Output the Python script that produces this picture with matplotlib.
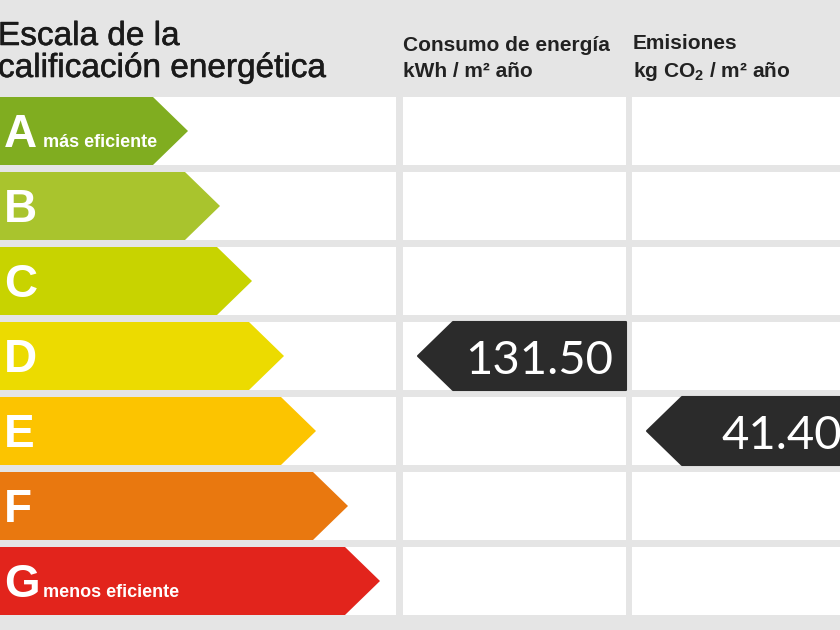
import matplotlib
matplotlib.use('Agg')
import matplotlib.pyplot as plt
import matplotlib.patheffects as pe
from matplotlib.patches import Polygon, Rectangle

# Rating scale and measured values
ratings = ['A', 'B', 'C', 'D', 'E', 'F', 'G']
rating_colors = ['#80ad20', '#a9c42d', '#c8d300', '#ecdb00', '#fcc400', '#e9780f', '#e2241c']
rating_notes = {'A': 'más eficiente', 'G': 'menos eficiente'}

consumo_rating = 'D'
consumo_value = 131.50
emisiones_rating = 'E'
emisiones_value = 41.40

plt.rcParams['mathtext.fontset'] = 'custom'
plt.rcParams['mathtext.rm'] = 'Liberation Sans:bold'
plt.rcParams['mathtext.bf'] = 'Liberation Sans:bold'

# layout in pixels
W, H = 840, 630
header_h = 97
row_pitch = 75
row_h = 68
col_left = (0, 403, 632)
col_right = (396, 626, 855)
arrow_tip0 = 188
arrow_step = 32
tip_len = 35

fig = plt.figure(figsize=(8.4, 6.3), dpi=100, facecolor='#e5e5e5')
ax = fig.add_axes([0, 0, 1, 1])
ax.set_xlim(0, W)
ax.set_ylim(H, 0)
ax.axis('off')
ax.set_facecolor('#e5e5e5')

# header text
thick = [pe.withStroke(linewidth=0.4, foreground='#1a1a1a')]
ax.text(-2, 45, 'Escala de la', fontsize=24, family='Liberation Sans', color='#1a1a1a',
        va='baseline', path_effects=thick)
ax.text(-2, 77, 'calificación energética', fontsize=24, family='Liberation Sans', color='#1a1a1a',
        va='baseline', path_effects=thick)
ax.text(403, 51, 'Consumo de energía', fontsize=15, family='Liberation Sans', weight='bold', color='#222222', va='baseline')
ax.text(403, 77, 'kWh / m² año', fontsize=15, family='Liberation Sans', weight='bold', color='#222222', va='baseline')
ax.text(633, 49, 'Emisiones', fontsize=15, family='Liberation Sans', weight='bold', color='#222222', va='baseline')
ax.text(633, 77, r'kg CO$_{\mathrm{2}}$ / m² año', fontsize=15, family='Liberation Sans', weight='bold', color='#222222', va='baseline')

for i, (r, c) in enumerate(zip(ratings, rating_colors)):
    top = header_h + i * row_pitch
    bot = top + row_h
    mid = (top + bot) / 2
    # white cells
    for x0, x1 in zip(col_left, col_right):
        ax.add_patch(Rectangle((x0, top), x1 - x0, row_h, facecolor='white', edgecolor='none'))
    # rating arrow
    tip = arrow_tip0 + arrow_step * i
    ax.add_patch(Polygon([(0, top), (tip - tip_len, top), (tip, mid), (tip - tip_len, bot), (0, bot)],
                         closed=True, facecolor=c, edgecolor='none'))
    ax.text(4, mid + 16, r, fontsize=33, family='Liberation Sans', weight='bold', color='white', va='baseline')
    if r in rating_notes:
        ax.text(43, mid + 16, rating_notes[r], fontsize=13, family='Liberation Sans', weight='bold',
                color='white', va='baseline')


def value_marker(col, rating, value):
    i = ratings.index(rating)
    top = header_h + i * row_pitch
    bot = top + row_h
    mid = (top + bot) / 2
    tip = col_left[col] + 15
    right = col_right[col]
    ax.add_patch(Polygon([(tip, mid), (tip + tip_len, top), (right, top), (right, bot), (tip + tip_len, bot)],
                         closed=True, facecolor='#2b2b2b', edgecolor='#2b2b2b', linewidth=1.5, joinstyle='round'))
    ax.text(right - 13, mid + 18, f'{value:.2f}', fontsize=34, family='Lato', color='white',
            ha='right', va='baseline')


value_marker(1, consumo_rating, consumo_value)
value_marker(2, emisiones_rating, emisiones_value)

fig.savefig('out.png', dpi=100, facecolor=fig.get_facecolor())
